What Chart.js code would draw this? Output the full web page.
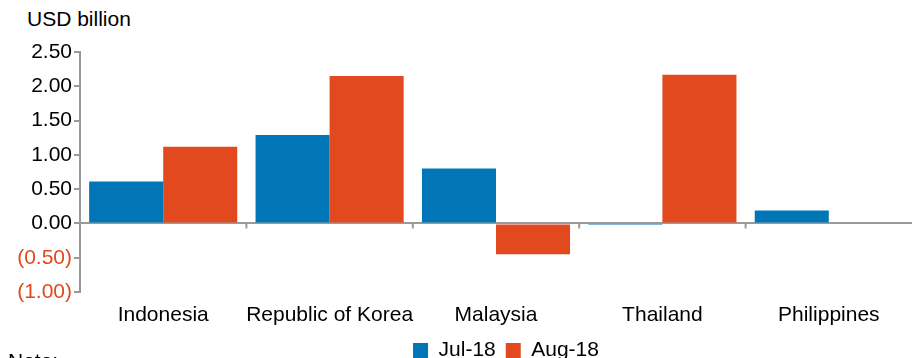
<!DOCTYPE html>
<html>
<head>
<meta charset="utf-8">
<script src="https://cdn.jsdelivr.net/npm/chart.js@4"></script>
<style>
  html, body { margin: 0; padding: 0; width: 923px; height: 358px; overflow: hidden; background: #fff; }
  body { position: relative; font-family: "Liberation Sans", Arial, sans-serif; }
  #unit { position: absolute; left: 27px; top: 7px; font-size: 21px; color: #000; }
  #note { position: absolute; left: 8px; top: 349px; font-size: 21px; color: #000; }
  #wrap { position: absolute; left: 0; top: 0; width: 923px; height: 381px; }
</style>
</head>
<body>
<div id="unit">USD billion</div>
<div id="wrap"><canvas id="chart"></canvas></div>
<div id="note">Note:</div>
<script>
const countries = ['Indonesia', 'Republic of Korea', 'Malaysia', 'Thailand', 'Philippines'];
const jul18 = [0.61, 1.29, 0.80, -0.01, 0.19];
const aug18 = [1.12, 2.15, -0.45, 2.17, null];
const seriesNames = ['Jul-18', 'Aug-18'];

const blue = '#0076B6';
const orange = '#E2491E';
const axisGrey = '#9a9a9a';
const fontFamily = 'Liberation Sans';

// little tick marks on the zero line between the countries
const zeroTicks = {
  id: 'zeroTicks',
  afterDatasetsDraw(chart) {
    const x = chart.scales.x, y = chart.scales.y;
    const y0 = y.getPixelForValue(0);
    const ctx = chart.ctx;
    ctx.save();
    ctx.strokeStyle = axisGrey;
    ctx.lineWidth = 2;
    for (let i = 1; i < countries.length; i++) {
      const xb = (x.getPixelForValue(i - 1) + x.getPixelForValue(i)) / 2;
      ctx.beginPath();
      ctx.moveTo(xb, y0);
      ctx.lineTo(xb, y0 + 5);
      ctx.stroke();
    }
    ctx.restore();
  }
};

// move the legend a bit to the right, like the original
const legendShift = {
  id: 'legendShift',
  afterLayout(chart) {
    chart.legend.left += 50;
    chart.legend.right += 50;
  }
};

new Chart(document.getElementById('chart'), {
  type: 'bar',
  data: {
    labels: countries,
    datasets: [
      { label: seriesNames[0], data: jul18, backgroundColor: blue },
      { label: seriesNames[1], data: aug18, backgroundColor: orange }
    ]
  },
  options: {
    responsive: true,
    maintainAspectRatio: false,
    animation: false,
    datasets: { bar: { categoryPercentage: 0.89, barPercentage: 1.0 } },
    layout: { padding: { top: 52, left: 0, right: 11, bottom: 10 } },
    scales: {
      x: {
        grid: { display: false },
        border: { display: false },
        ticks: {
          color: '#000',
          font: { family: fontFamily, size: 21 },
          padding: 3,
          autoSkip: false,
          maxRotation: 0,
          minRotation: 0
        },
        afterFit(scale) { scale.height = 38; }
      },
      y: {
        min: -1,
        max: 2.5,
        ticks: {
          stepSize: 0.5,
          padding: 2,
          color: ctx => ctx.tick.value < 0 ? orange : '#000',
          font: { family: fontFamily, size: 21 },
          callback: v => v < 0 ? '(' + Math.abs(v).toFixed(2) + ')' : v.toFixed(2)
        },
        grid: {
          color: ctx => ctx.tick && ctx.tick.value === 0 ? axisGrey : 'rgba(0,0,0,0)',
          tickColor: axisGrey,
          lineWidth: 2,
          tickLength: 6
        },
        border: { color: axisGrey, width: 2 },
        afterFit(scale) { scale.width = 80; }
      }
    },
    plugins: {
      legend: {
        position: 'bottom',
        labels: {
          color: '#000',
          font: { family: fontFamily, size: 21 },
          boxWidth: 15,
          boxHeight: 15,
          padding: 10
        }
      },
      tooltip: { enabled: false }
    }
  },
  plugins: [zeroTicks, legendShift]
});
</script>
</body>
</html>
